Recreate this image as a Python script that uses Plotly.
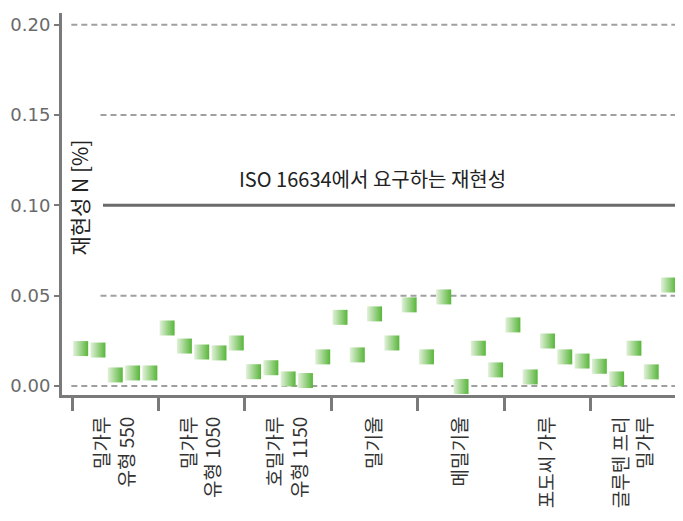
import plotly.graph_objects as go

categories = ["밀가루<br>유형 550", "밀가루<br>유형 1050", "호밀가루<br>유형 1150", "밀기울",
              "메밀기울", "포도씨 가루", "글루텐 프리<br>밀가루"]
values = [
    [0.0207, 0.0199, 0.0061, 0.0072, 0.0072],
    [0.0321, 0.0221, 0.0188, 0.0183, 0.0238],
    [0.0079, 0.0101, 0.0039, 0.0030, 0.0161],
    [0.0380, 0.0172, 0.0399, 0.0238, 0.0449],
    [0.0161, 0.0493, -0.0003, 0.0209, 0.0089],
    [0.0338, 0.0050, 0.0249, 0.0161, 0.0138],
    [0.0109, 0.0039, 0.0209, 0.0078, 0.0559],
]
ytick_vals = [0.0, 0.05, 0.10, 0.15, 0.20]
ytick_text = ["0.00", "0.05", "0.10", "0.15", "0.20"]
requirement = 0.10
annotation_text = "ISO 16634에서 요구하는 재현성"
y_title = "재현성 N [%]"

n_per = len(values[0])
xs, ys = [], []
for g, grp in enumerate(values):
    for j, v in enumerate(grp):
        xs.append(g * n_per + j + 0.5)
        ys.append(v)

FONT = "Noto Sans CJK KR, Noto Sans, sans-serif"
fig = go.Figure()
fig.add_trace(go.Scatter(
    x=xs, y=ys, mode="markers",
    marker=dict(symbol="square", size=15, color="#e2f1da",
                gradient=dict(type="horizontal", color="#58b63a"),
                line=dict(width=0)),
    showlegend=False, hoverinfo="skip"))

# gridlines
for v in ytick_vals:
    if v == requirement:
        continue
    x0 = 0.015 if v in (0.0, 0.20) else 0.062
    fig.add_shape(type="line", xref="paper", yref="y", x0=x0, x1=1, y0=v, y1=v,
                  line=dict(color="#a0a0a0", width=2, dash="6px,4px"), layer="below")
fig.add_shape(type="line", xref="paper", yref="y", x0=0.066, x1=1, y0=requirement, y1=requirement,
              line=dict(color="#6a6a6a", width=3), layer="below")

fig.add_annotation(x=0.5, xref="paper", y=requirement, yref="y", yshift=27,
                   text=annotation_text, showarrow=False,
                   font=dict(family=FONT, size=20, color="#222222"))
fig.add_annotation(x=0.028, xref="paper", xanchor="center", y=0.1045, yref="y",
                   text=y_title, textangle=-90, showarrow=False,
                   font=dict(family=FONT, size=21, color="#222222"))

centers = [g * n_per + n_per / 2 for g in range(len(categories))]
bounds = [g * n_per for g in range(len(categories) + 1)]
fig.update_xaxes(range=[-0.58, 35.34], tickmode="array", tickvals=centers, ticktext=categories,
                 tickangle=-90, ticks="", ticklabelstandoff=11, automargin=False,
                 tickfont=dict(family=FONT, size=19, color="#333333"),
                 showgrid=False, zeroline=False, showline=True, linecolor="#7a7a7a", linewidth=3,
                 minor=dict(tickmode="array", tickvals=bounds, ticks="outside", ticklen=13,
                            tickwidth=3, tickcolor="#7a7a7a", showgrid=False))
fig.update_yaxes(range=[-0.005, 0.2065], tickmode="array", tickvals=ytick_vals, ticktext=ytick_text,
                 ticks="outside", ticklen=5, tickwidth=2, tickcolor="#7a7a7a", automargin=False,
                 tickfont=dict(family="DejaVu Sans, sans-serif", size=18, color="#6a6a6a"),
                 showgrid=False, zeroline=False, showline=True, linecolor="#7a7a7a", linewidth=3)
# the page body adds an 8px offset, so the figure is sized to the remaining window
fig.update_layout(width=675, height=513, margin=dict(l=54, r=0, t=5, b=126),
                  plot_bgcolor="white", paper_bgcolor="white")
fig.write_html("out.html")
